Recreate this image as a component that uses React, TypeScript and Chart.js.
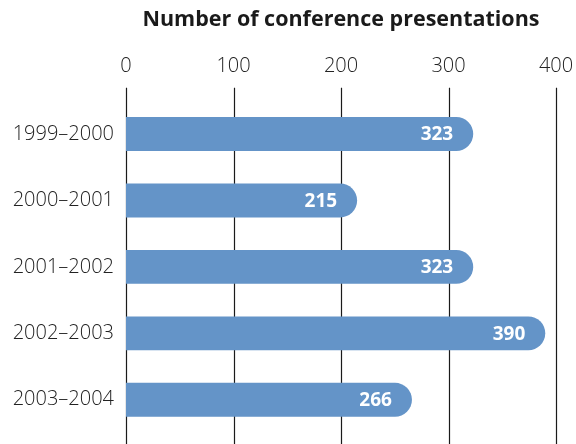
import React, { useEffect, useRef } from "react";
import { Chart, registerables } from "chart.js";

Chart.register(...registerables);

const categories = ["1999–2000", "2000–2001", "2001–2002", "2002–2003", "2003–2004"];
const values = [323, 215, 323, 390, 266];
const tickValues = [0, 100, 200, 300, 400];
const titleText = "Number of conference presentations";

const FONT = "'Open Sans', 'Noto Sans', sans-serif";
const BAR_COLOR = "#6494c8";

const gridPlugin = {
  id: "customGrid",
  beforeDatasetsDraw(chart: any) {
    const { ctx, chartArea, scales } = chart;
    const x = scales.x;
    ctx.save();
    ctx.strokeStyle = "#1a1a1a";
    ctx.lineWidth = 1.2;
    tickValues.forEach((v) => {
      const px = Math.round(x.getPixelForValue(v)) + 0.5;
      ctx.beginPath();
      ctx.moveTo(px, chartArea.top - 13);
      ctx.lineTo(px, chart.height);
      ctx.stroke();
    });
    ctx.restore();
  },
};

const labelPlugin = {
  id: "valueLabels",
  afterDatasetsDraw(chart: any) {
    const { ctx } = chart;
    const meta = chart.getDatasetMeta(0);
    ctx.save();
    ctx.fillStyle = "#ffffff";
    ctx.font = `bold 19px ${FONT}`;
    ctx.textAlign = "right";
    ctx.textBaseline = "middle";
    meta.data.forEach((bar: any, i: number) => {
      ctx.fillText(String(values[i]), bar.x - 20, bar.y + 1);
    });
    ctx.restore();
  },
};

export default function App() {
  const ref = useRef<HTMLCanvasElement | null>(null);
  useEffect(() => {
    document.body.style.margin = "0";
    const canvas = ref.current;
    if (!canvas) return;
    const chart = new Chart(canvas, {
      type: "bar",
      data: {
        labels: categories,
        datasets: [
          {
            data: values,
            backgroundColor: BAR_COLOR,
            borderWidth: 0,
            borderSkipped: false,
            borderRadius: { topLeft: 0, bottomLeft: 0, topRight: 17, bottomRight: 17 },
            barPercentage: 0.85,
            categoryPercentage: 0.6,
          },
        ],
      },
      options: {
        indexAxis: "y",
        responsive: false,
        animation: false,
        layout: { padding: { top: 0, right: 20, bottom: 11, left: 0 } },
        plugins: {
          legend: { display: false },
          tooltip: { enabled: false },
          title: {
            display: true,
            text: titleText,
            fullSize: false,
            color: "#1a1a1a",
            font: { family: FONT, size: 21.5, weight: "bold" },
            padding: { top: 7, bottom: 11 },
          },
        },
        scales: {
          x: {
            position: "top",
            min: 0,
            max: 400,
            grid: { display: false, drawTicks: false },
            border: { display: false },
            afterBuildTicks: (scale: any) => {
              scale.ticks = tickValues.map((v) => ({ value: v }));
            },
            afterFit: (scale: any) => {
              scale.height = 57;
              scale.paddingLeft = 0;
              scale.paddingRight = 0;
            },
            ticks: {
              padding: 23,
              color: "#222222",
              font: { family: FONT, size: 20, weight: "300" },
              maxRotation: 0,
            },
          },
          y: {
            grid: { display: false, drawTicks: false },
            border: { display: false },
            afterFit: (scale: any) => {
              scale.width = 126;
              scale.paddingTop = 0;
              scale.paddingBottom = 0;
            },
            ticks: {
              padding: 12,
              color: "#222222",
              font: { family: FONT, size: 20, weight: "300" },
            },
          },
        },
      },
      plugins: [gridPlugin, labelPlugin],
    });
    return () => chart.destroy();
  }, []);
  return (
    <div style={{ width: 576, height: 444 }}>
      <canvas ref={ref} width={576} height={444} style={{ display: "block" }} />
    </div>
  );
}
